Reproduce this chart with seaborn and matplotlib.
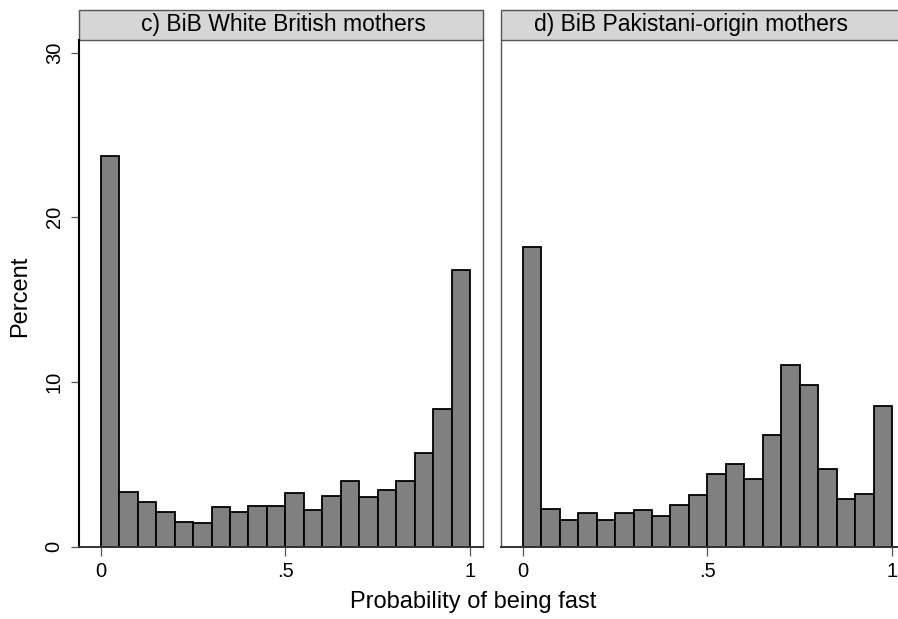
import numpy as np
import pandas as pd
import seaborn as sns
import matplotlib.pyplot as plt
from matplotlib.patches import Rectangle

# Percent of mothers in each 0.05-wide bin of the predicted probability
bin_edges = [i / 20 for i in range(21)]
white_british = [23.74, 3.33, 2.73, 2.10, 1.48, 1.44, 2.42, 2.10, 2.48, 2.50,
                 3.25, 2.24, 3.05, 4.00, 3.01, 3.45, 4.00, 5.72, 8.39, 16.81]
pakistani = [18.20, 2.28, 1.64, 2.06, 1.64, 2.02, 2.24, 1.88, 2.51, 3.13,
             4.43, 5.01, 4.12, 6.77, 11.05, 9.80, 4.73, 2.87, 3.19, 8.56]
panel_titles = ["c) BiB White British mothers", "d) BiB Pakistani-origin mothers"]
x_ticks = [0, 0.5, 1]
x_tick_labels = ["0", ".5", "1"]
y_ticks = [0, 10, 20, 30]

sns.set_style("white")
plt.rcParams["font.family"] = ["Liberation Sans", "DejaVu Sans"]
plt.rcParams["text.color"] = "black"
plt.rcParams["xtick.color"] = "black"
plt.rcParams["ytick.color"] = "black"

W, H = 898, 619
fig = plt.figure(figsize=(W / 100, H / 100), dpi=100)


def axes_px(left, top, right, bottom):
    return fig.add_axes([left / W, 1 - bottom / H, (right - left) / W, (bottom - top) / H])


ax1 = axes_px(79, 40, 483, 546.7)
ax2 = axes_px(501, 40, 905, 546.7)

centers = [(a + b) / 2 for a, b in zip(bin_edges[:-1], bin_edges[1:])]
strip_h = 30 / 506.7

for ax, vals, title, tx in [(ax1, white_british, panel_titles[0], 0.505),
                            (ax2, pakistani, panel_titles[1], 0.47)]:
    df = pd.DataFrame({"p": centers, "pct": vals})
    sns.histplot(data=df, x="p", weights="pct", bins=list(bin_edges), ax=ax,
                 color="#808080", edgecolor="black", linewidth=1.3, alpha=1)
    ax.set_xlim(-0.0588, 1.035)
    ax.set_ylim(0, 30.77)
    ax.set_xticks(x_ticks)
    ax.set_xticklabels(x_tick_labels)
    ax.set_xlabel("")
    ax.set_ylabel("")
    ax.tick_params(axis="x", bottom=True, length=6.5, width=0.9, color="#555555",
                   pad=4.5, labelsize=14.5, labelcolor="black")
    for side in ["right", "left", "bottom"]:
        ax.spines[side].set_visible(True)
    ax.spines["top"].set_visible(False)
    ax.spines["bottom"].set_color("#333333")
    ax.spines["bottom"].set_linewidth(1.4)
    ax.spines["right"].set_color("#555555")
    ax.spines["right"].set_linewidth(1.0)
    # panel header strip
    ax.add_patch(Rectangle((0, 1), 1, strip_h, transform=ax.transAxes, clip_on=False,
                           facecolor="#d6d6d6", edgecolor="#555555", linewidth=1.0))
    ax.text(tx, 1 + strip_h / 2, title, transform=ax.transAxes, ha="center",
            va="center", fontsize=16.5, color="black")

ax1.spines["left"].set_color("black")
ax1.spines["left"].set_linewidth(1.5)
ax1.set_yticks(y_ticks)
ax1.tick_params(axis="y", left=True, length=6, width=0.9, color="#555555",
                pad=5.0, labelsize=14.5, labelcolor="black")
for lab in ax1.get_yticklabels():
    lab.set_rotation(90)
    lab.set_va("center")

ax2.set_yticks([])
ax2.spines["left"].set_color("#555555")
ax2.spines["left"].set_linewidth(1.0)

fig.text(473.5 / W, 1 - 602 / H, "Probability of being fast", ha="center",
         va="center", fontsize=17, color="black")
fig.text(20 / W, 1 - 296 / H, "Percent", rotation=90, ha="center",
         va="center", fontsize=17, color="black")

fig.savefig("out.png", dpi=100)
